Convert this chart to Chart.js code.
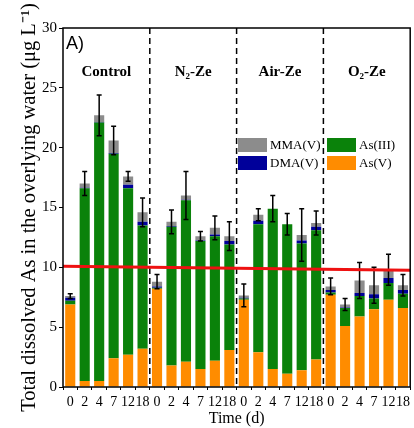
<!DOCTYPE html>
<html><head><meta charset="utf-8">
<script src="https://cdn.jsdelivr.net/npm/chart.js@4.4.1/dist/chart.umd.min.js"></script>
<style>html,body{margin:0;padding:0;background:#fff;}#wrap{width:414px;height:428px;}</style>
</head><body><div id="wrap"><canvas id="c" width="414" height="428"></canvas></div>
<script>
const days = ['0','2','4','7','12','18'];
const groups = ['Control','N₂-Ze','Air-Ze','O₂-Ze'];
const categories = [].concat(days, days, days, days);
const asV   = [6.9,0.5,0.5,2.4,2.7,3.2,  8.2,1.8,2.1,1.5,2.2,3.1,  7.3,2.9,1.5,1.1,1.4,2.3,  7.7,5.1,5.9,6.5,7.3,6.6];
const asIII = [0.3,16.1,21.6,17.1,13.9,10.3,  0.1,11.6,13.5,10.7,10.4,8.8,  0.1,10.7,13.4,12.5,10.6,10.8,  0.2,1.5,1.7,0.9,1.4,1.2];
const dmaV  = [0.25,0.05,0.05,0.05,0.3,0.3,  0.1,0.05,0.05,0.05,0.15,0.3,  0.05,0.3,0,0,0.25,0.3,  0.2,0.05,0.25,0.35,0.4,0.3];
const mmaV  = [0.15,0.35,0.55,1.05,0.7,0.8,  0.4,0.35,0.35,0.35,0.55,0.4,  0.2,0.5,0,0,0.45,0.3,  0.3,0.25,1.05,0.75,0.7,0.4];
const errs  = [0.2,1.0,1.7,1.2,0.4,1.2,  0.6,1.0,2.0,0.4,1.0,1.2,  0.95,0.5,1.1,0.9,2.2,1.0,  0.7,0.5,1.5,1.5,1.3,0.9];
const yTicks = [0,5,10,15,20,25,30];
const redLine = [10.1, 9.75]; // left end, right end

const COL = {asV:'#ff8c00', asIII:'#0a820a', dmaV:'#00009a', mmaV:'#8c8c8c'};
const SERIF = "'Liberation Serif', 'Times New Roman', serif";

const extras = {
  id:'extras',
  afterDatasetsDraw(chart){
    const ctx = chart.ctx, ca = chart.chartArea, xs = chart.scales.x, ys = chart.scales.y;
    ctx.save();
    // error bars
    ctx.strokeStyle = '#000'; ctx.lineWidth = 1.5;
    for (let i=0;i<categories.length;i++){
      const tot = asV[i]+asIII[i]+dmaV[i]+mmaV[i];
      const x = xs.getPixelForValue(i);
      const yt = ys.getPixelForValue(tot+errs[i]);
      const yb = ys.getPixelForValue(tot-errs[i]);
      ctx.beginPath();
      ctx.moveTo(x,yt); ctx.lineTo(x,yb);
      ctx.moveTo(x-2.5,yt); ctx.lineTo(x+2.5,yt);
      ctx.moveTo(x-2.5,yb); ctx.lineTo(x+2.5,yb);
      ctx.stroke();
    }
    // dashed separators
    ctx.setLineDash([6,4]); ctx.lineWidth = 1.5;
    for (let g=1; g<groups.length; g++){
      const x = (xs.getPixelForValue(g*6-1)+xs.getPixelForValue(g*6))/2;
      ctx.beginPath(); ctx.moveTo(x, ca.top); ctx.lineTo(x, ca.bottom); ctx.stroke();
    }
    ctx.setLineDash([]);
    // red reference line
    ctx.strokeStyle = '#ee1111'; ctx.lineWidth = 3;
    ctx.beginPath();
    ctx.moveTo(ca.left, ys.getPixelForValue(redLine[0]));
    ctx.lineTo(ca.right, ys.getPixelForValue(redLine[1]));
    ctx.stroke();
    // frame
    ctx.strokeStyle = '#000'; ctx.lineWidth = 1.5;
    ctx.strokeRect(ca.left, ca.top, ca.right-ca.left, ca.bottom-ca.top);
    // group labels
    ctx.fillStyle = '#000';
    ctx.font = 'bold 15px ' + SERIF;
    ctx.textAlign = 'center'; ctx.textBaseline = 'middle';
    for (let g=0; g<groups.length; g++){
      const x = (xs.getPixelForValue(g*6)+xs.getPixelForValue(g*6+5))/2;
      ctx.fillText(groups[g], x, ca.top + 44);
    }
    // panel label
    ctx.font = '18px "Liberation Sans", Arial, sans-serif';
    ctx.textAlign = 'left';
    ctx.fillText('A)', ca.left + 3, ca.top + 16);
    // legend
    const items = [
      ['MMA(V)', COL.mmaV, 238, 138], ['DMA(V)', COL.dmaV, 238, 156],
      ['As(III)', COL.asIII, 327, 138], ['As(V)', COL.asV, 327, 156]
    ];
    ctx.font = '13px ' + SERIF;
    items.forEach(([t,c,x,y])=>{
      ctx.fillStyle = c; ctx.fillRect(x, y, 29, 14);
      ctx.fillStyle = '#000'; ctx.fillText(t, x+32, y+7.5);
    });
    ctx.restore();
  }
};

const mk = (label, data, color) => ({label, data, backgroundColor: color, borderWidth: 0, stack:'s', barPercentage:0.7, categoryPercentage:1.0});

new Chart(document.getElementById('c'), {
  type:'bar',
  data:{
    labels: categories,
    datasets:[
      mk('As(V)', asV, COL.asV),
      mk('As(III)', asIII, COL.asIII),
      mk('DMA(V)', dmaV, COL.dmaV),
      mk('MMA(V)', mmaV, COL.mmaV)
    ]
  },
  options:{
    responsive:false, animation:false, devicePixelRatio:1,
    layout:{padding:{left:17, top:28, right:2, bottom:0}},
    plugins:{legend:{display:false}, tooltip:{enabled:false}},
    scales:{
      x:{
        stacked:true,
        grid:{display:true, drawOnChartArea:false, tickLength:3, color:'#000'},
        border:{display:false},
        ticks:{autoSkip:false, maxRotation:0, minRotation:0, color:'#000', padding:4, font:{family:SERIF, size:14}},
        title:{display:true, text:'Time (d)', color:'#000', font:{family:SERIF, size:16}, padding:{top:0,bottom:0}},
        afterFit(s){ s.height = 41; }
      },
      y:{
        stacked:true, min:0, max:30,
        afterBuildTicks(s){ s.ticks = yTicks.map(v=>({value:v})); },
        grid:{display:true, drawOnChartArea:false, tickLength:4, color:'#000'},
        border:{display:false},
        ticks:{color:'#000', padding:2, font:{family:SERIF, size:15}},
        title:{display:true, text:'Total dissolved As in the overlying water (μg L⁻¹)', color:'#000', font:{family:SERIF, size:20.5}, padding:{top:0,bottom:0}},
        afterFit(s){ s.width = 46; }
      }
    }
  },
  plugins:[extras]
});
</script></body></html>
